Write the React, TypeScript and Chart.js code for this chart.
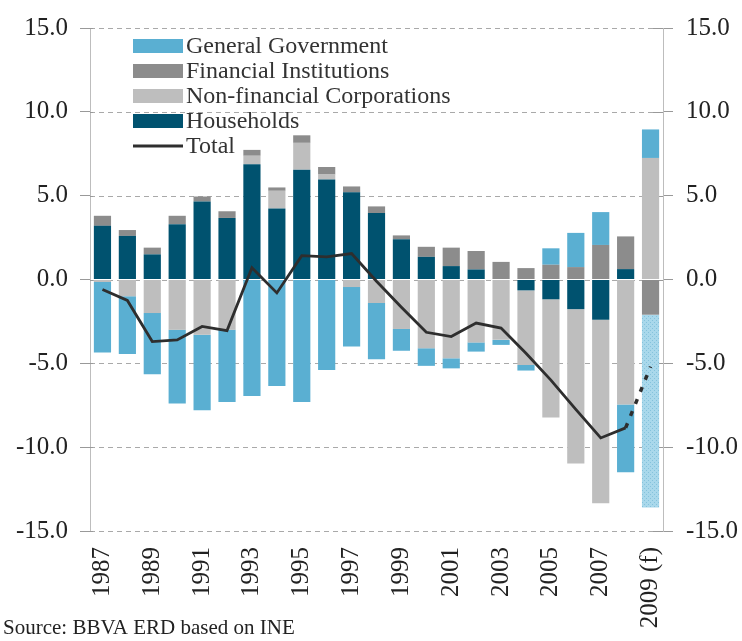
import React, { useEffect, useRef } from 'react';
import { Chart, registerables } from 'chart.js';

Chart.register(...registerables);

// ---- data ----
const categories = ['1987', '1988', '1989', '1990', '1991', '1992', '1993', '1994', '1995', '1996', '1997', '1998', '1999', '2000', '2001', '2002', '2003', '2004', '2005', '2006', '2007', '2008', '2009 (f)'];

const households = [3.2, 2.6, 1.5, 3.3, 4.65, 3.67, 6.88, 4.24, 6.55, 5.96, 5.2, 3.96, 2.4, 1.35, 0.8, 0.6, 0, -0.65, -1.18, -1.77, -2.4, 0.62, 0];
const nonFinancialCorporations = [-0.15, -1.0, -2.0, -3.0, -3.3, -3.0, 0.5, 1.05, 1.6, 0.3, -0.45, -1.4, -2.95, -4.1, -4.7, -3.75, -3.6, -4.45, -7.05, -9.2, -10.95, -7.45, 7.25];
const financialInstitutions = [0.6, 0.35, 0.4, 0.5, 0.3, 0.4, 0.35, 0.2, 0.45, 0.45, 0.35, 0.4, 0.23, 0.6, 1.1, 1.1, 1.05, 0.68, 0.88, 0.74, 2.06, 1.95, -2.1];
const generalGovernment = [-4.2, -3.45, -3.65, -4.4, -4.5, -4.3, -6.95, -6.35, -7.3, -5.4, -3.55, -3.35, -1.3, -1.05, -0.6, -0.55, -0.3, -0.33, 0.98, 2.04, 1.96, -4.05, 1.7];
const generalGovernmentForecast = [null, null, null, null, null, null, null, null, null, null, null, null, null, null, null, null, null, null, null, null, null, null, -11.5];
const total = [-0.6, -1.25, -3.7, -3.6, -2.8, -3.05, 0.7, -0.8, 1.42, 1.35, 1.55, -0.1, -1.65, -3.15, -3.4, -2.6, -2.9, -4.4, -6.0, -7.75, -9.45, -8.85, -5.2];

const yTickValues = [-15, -10, -5, 0, 5, 10, 15];
const legendLabels = ['General Government', 'Financial Institutions', 'Non-financial Corporations', 'Households', 'Total'];
const sourceText = 'Source: BBVA ERD based on INE';

// ---- styles ----
const C_GG = '#5aafd2';
const C_FI = '#8c8c8c';
const C_NFC = '#bebebe';
const C_HH = '#00526f';
const C_TOTAL = '#2e2e2e';
const FONT = '"Liberation Serif", "Times New Roman", serif';

function makePattern(): CanvasPattern | string {
  const c = document.createElement('canvas');
  c.width = 4;
  c.height = 4;
  const g = c.getContext('2d');
  if (!g) return '#a9d8eb';
  g.fillStyle = '#a9d8eb';
  g.fillRect(0, 0, 4, 4);
  g.fillStyle = '#84c2dc';
  g.fillRect(0, 0, 1, 1);
  g.fillRect(2, 2, 1, 1);
  return g.createPattern(c, 'repeat') || '#a9d8eb';
}

// dashed horizontal gridlines + inner tick stubs, drawn via the y scale
const gridPlugin = {
  id: 'dashedGrid',
  beforeDatasetsDraw(chart: any) {
    const ctx = chart.ctx;
    const area = chart.chartArea;
    const y = chart.scales.y;
    ctx.save();
    ctx.strokeStyle = '#a9a9a9';
    ctx.lineWidth = 1;
    ctx.setLineDash([5, 4]);
    yTickValues.forEach((v) => {
      const py = Math.round(y.getPixelForValue(v)) + 0.5;
      ctx.beginPath();
      ctx.moveTo(area.left, py);
      ctx.lineTo(area.right, py);
      ctx.stroke();
    });
    ctx.setLineDash([]);
    ctx.strokeStyle = '#999';
    yTickValues.forEach((v) => {
      const py = Math.round(y.getPixelForValue(v)) + 0.5;
      ctx.beginPath();
      ctx.moveTo(area.left, py);
      ctx.lineTo(area.left + 3, py);
      ctx.moveTo(area.right - 10, py);
      ctx.lineTo(area.right, py);
      ctx.stroke();
    });
    ctx.restore();
  },
};

const overlayPlugin = {
  id: 'overlay',
  afterDraw(chart: any) {
    const ctx = chart.ctx;
    const colors = [C_GG, C_FI, C_NFC, C_HH, C_TOTAL];
    ctx.save();
    ctx.font = `24px ${FONT}`;
    ctx.textBaseline = 'middle';
    ctx.textAlign = 'left';
    legendLabels.forEach((label, i) => {
      const y = 46 + i * 25;
      if (i < 4) {
        ctx.fillStyle = colors[i];
        ctx.fillRect(133, y - 7, 50, 14);
      } else {
        ctx.strokeStyle = colors[i];
        ctx.lineWidth = 3;
        ctx.beginPath();
        ctx.moveTo(133, y);
        ctx.lineTo(183, y);
        ctx.stroke();
      }
      ctx.fillStyle = '#333';
      ctx.fillText(label, 186, y + 1);
    });
    ctx.font = `21px ${FONT}`;
    ctx.textBaseline = 'alphabetic';
    ctx.fillStyle = '#222';
    ctx.fillText(sourceText, 3, 634);
    ctx.restore();
  },
};

export default function App() {
  const ref = useRef<HTMLCanvasElement | null>(null);

  useEffect(() => {
    if (!ref.current) return;
    const pattern = makePattern();
    const ggForecastColors = categories.map(() => pattern);

    const barCommon = {
      type: 'bar' as const,
      stack: 'bars',
      order: 1,
      barPercentage: 0.69,
      categoryPercentage: 1.0,
      borderWidth: 0,
    };

    const yTickCommon = {
      font: { family: FONT, size: 25 },
      color: '#222',
      callback: (v: any) => Number(v).toFixed(1),
      stepSize: 5,
    };

    const chart = new Chart(ref.current, {
      type: 'bar',
      data: {
        labels: categories,
        datasets: [
          {
            type: 'line',
            label: 'Total',
            data: total,
            borderColor: C_TOTAL,
            backgroundColor: C_TOTAL,
            borderWidth: 2.8,
            pointRadius: 0,
            tension: 0,
            stack: 'line',
            order: 0,
            segment: {
              borderDash: (c: any) => (c.p1DataIndex === categories.length - 1 ? [5, 8] : undefined),
              borderWidth: (c: any) => (c.p1DataIndex === categories.length - 1 ? 3.5 : undefined),
            },
          } as any,
          { ...barCommon, label: 'Households', data: households, backgroundColor: C_HH },
          { ...barCommon, label: 'Non-financial Corporations', data: nonFinancialCorporations, backgroundColor: C_NFC },
          { ...barCommon, label: 'Financial Institutions', data: financialInstitutions, backgroundColor: C_FI },
          { ...barCommon, label: 'General Government', data: generalGovernment, backgroundColor: C_GG },
          { ...barCommon, label: 'General Government (f)', data: generalGovernmentForecast as any, backgroundColor: ggForecastColors as any },
        ],
      },
      options: {
        animation: false,
        responsive: true,
        maintainAspectRatio: false,
        layout: { padding: { top: 26, left: 0, right: 0, bottom: 0 } },
        plugins: {
          legend: { display: false },
          tooltip: { enabled: false },
        },
        scales: {
          x: {
            stacked: true,
            offset: true,
            grid: { display: false, drawTicks: false },
            border: { display: false },
            ticks: {
              autoSkip: false,
              minRotation: 90,
              maxRotation: 90,
              padding: 16,
              font: { family: FONT, size: 25 },
              color: '#222',
              callback: function (this: any, v: any, i: number) {
                return i % 2 === 0 ? categories[i] : '';
              },
            },
            afterFit: (s: any) => {
              s.height = 110;
            },
          },
          y: {
            stacked: true,
            position: 'left',
            min: -15,
            max: 15,
            afterBuildTicks: (s: any) => {
              s.ticks = yTickValues.map((v) => ({ value: v }));
            },
            grid: {
              drawOnChartArea: false,
              tickColor: '#999',
              tickLength: 10,
            },
            border: { display: true, color: '#bdbdbd', width: 1 },
            ticks: { ...yTickCommon, padding: 12 },
            afterFit: (s: any) => {
              s.width = 90;
            },
          },
          y2: {
            position: 'right',
            min: -15,
            max: 15,
            afterBuildTicks: (s: any) => {
              s.ticks = yTickValues.map((v) => ({ value: v }));
            },
            grid: {
              drawOnChartArea: false,
              tickColor: '#999',
              tickLength: 10,
            },
            border: { display: true, color: '#bdbdbd', width: 1 },
            ticks: { ...yTickCommon, padding: 13 },
            afterFit: (s: any) => {
              s.width = 79;
            },
          },
        },
      },
      plugins: [gridPlugin, overlayPlugin],
    });

    return () => chart.destroy();
  }, []);

  return (
    <div style={{ position: 'fixed', left: 0, top: 0, width: 742, height: 641, background: '#fff' }}>
      <canvas ref={ref} />
    </div>
  );
}
